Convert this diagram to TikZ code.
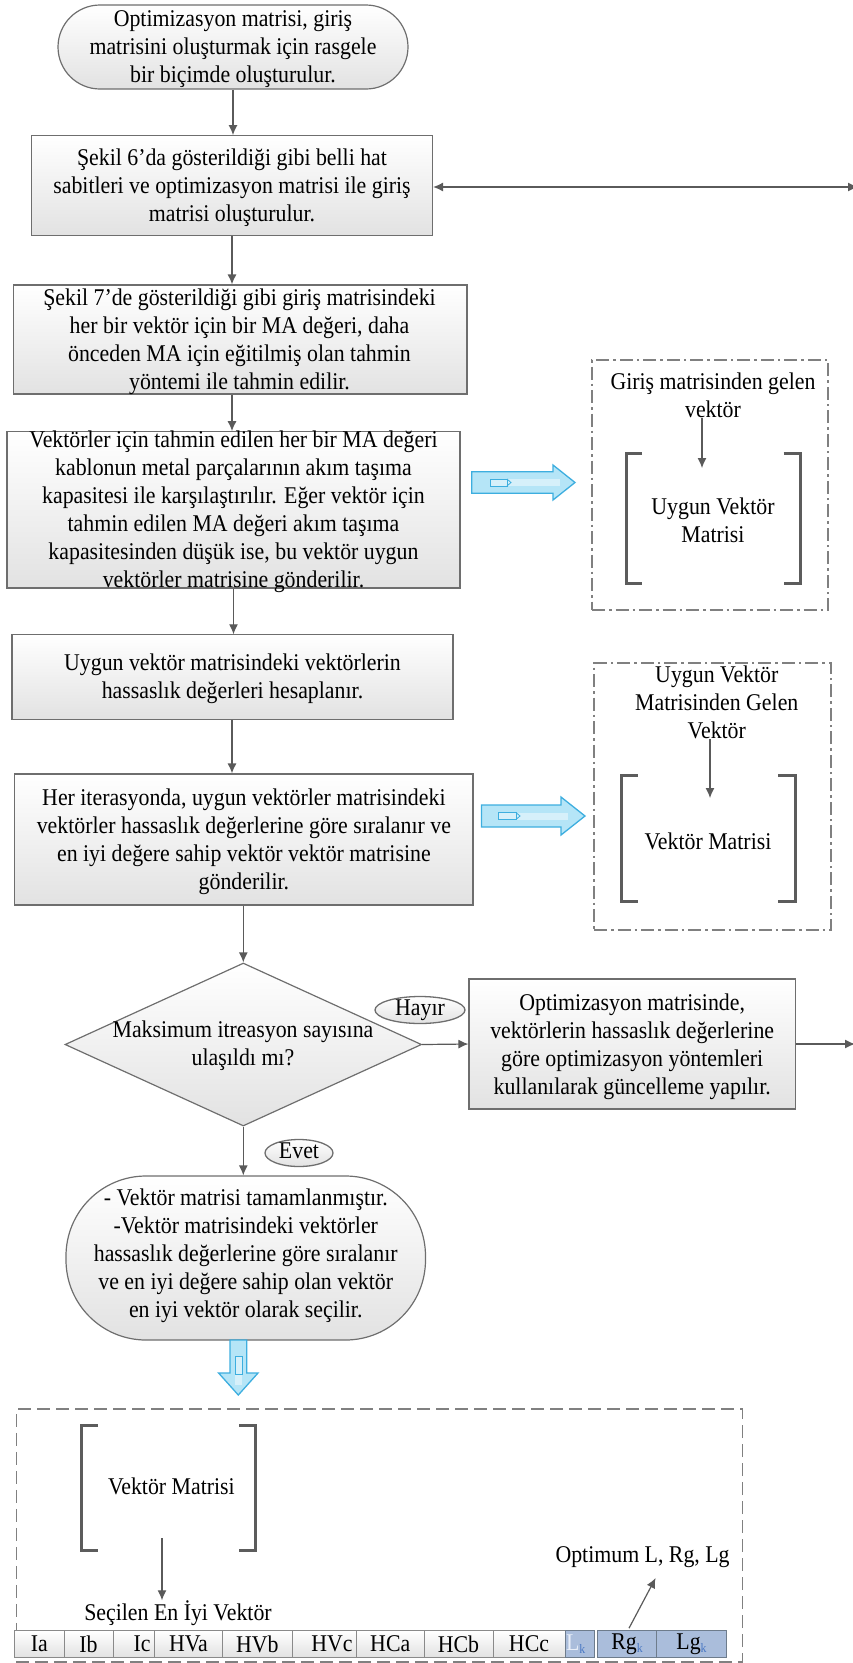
\documentclass[tikz,border=0pt]{standalone}
\usepackage{fontspec}
\setmainfont{Liberation Serif}[FakeStretch=0.91]
\usetikzlibrary{arrows.meta,shapes.geometric,calc}
\definecolor{bd}{HTML}{6E6E6E}
\definecolor{bfill}{HTML}{E2E2E2}
\definecolor{connc}{HTML}{5A5A5A}
\definecolor{blueA}{HTML}{B5E5F7}
\definecolor{blueB}{HTML}{3DAEDF}
\definecolor{cellblue}{HTML}{AABDDB}
\definecolor{cellbd}{HTML}{6E7C8C}
\definecolor{cellgray}{HTML}{8A8A8A}
\definecolor{subk}{HTML}{4A78C4}
\definecolor{Lfade}{HTML}{E8EEF8}
\definecolor{dd}{HTML}{808080}
\definecolor{brk}{HTML}{5C5C5C}
\newcommand{\kSub}{\raisebox{-3pt}{\fontsize{13}{13}\selectfont\textcolor{subk}{k}}}
\begin{document}
\begin{tikzpicture}[x=1pt,y=-1pt,
  txt/.style={font=\fontsize{24}{28}\selectfont, align=center, inner sep=0pt, text=black},
  procbox/.style={draw=bd, line width=1.2pt, top color=white, bottom color=bfill, inner sep=0pt},
  ddbox/.style={draw=dd, line width=1.4pt, dash pattern=on 13pt off 4pt on 2.5pt off 4pt, inner sep=0pt},
  dbox/.style={draw=dd, line width=1.5pt, dash pattern=on 13pt off 6pt, inner sep=0pt},
  conn/.style={draw=connc, line width=1.2pt, -{Latex[length=10pt,width=9pt]}},
  brack/.style={draw=brk, line width=3pt},
  barrow/.style={draw=blueB, fill=blueA, line width=1.3pt, line join=miter},
  tagell/.style={draw=bd, line width=1.3pt, ellipse, top color=white, bottom color=bfill, inner sep=0pt, font=\fontsize{24}{28}\selectfont, text height=14pt, text depth=4pt},
  cellw/.style={draw=cellgray, line width=1pt, top color=white, bottom color=bfill, minimum height=26.6pt, inner sep=0pt, anchor=west, font=\fontsize{24}{26}\selectfont},
  cellb/.style={draw=cellbd, line width=1pt, fill=cellblue, minimum height=26.6pt, inner sep=0pt, anchor=west, font=\fontsize{24}{26}\selectfont}
]
\useasboundingbox (0,0) rectangle (853,1663);
\clip (0,0) rectangle (853,1663);

% ---------- main flow shapes ----------
\node[procbox, minimum width=350pt, minimum height=84pt, rounded corners=42pt] (t1) at (233,47) {};
\node[txt] (t1t) at (233,49) {Optimizasyon matrisi, giriş\\matrisini oluşturmak için rasgele\\bir biçimde oluşturulur.};

\node[procbox, minimum width=401pt, minimum height=100pt] (b2) at (232,185.7) {};
\node[txt] (b2t) at (232,188) {Şekil 6'da gösterildiği gibi belli hat\\sabitleri ve optimizasyon matrisi ile giriş\\matrisi oluşturulur.};

\node[procbox, minimum width=453.4pt, minimum height=109pt] (b3) at (240.3,339.5) {};
\node[txt] (b3t) at (239.5,341.5) {Şekil 7'de gösterildiği gibi giriş matrisindeki\\her bir vektör için bir MA değeri, daha\\önceden MA için eğitilmiş olan tahmin\\yöntemi ile tahmin edilir.};

\node[procbox, minimum width=453pt, minimum height=156.3pt] (b4) at (233.5,509.9) {};
\node[txt] (b4t) at (233.5,511.7) {Vektörler için tahmin edilen her bir MA değeri\\kablonun metal parçalarının akım taşıma\\kapasitesi ile karşılaştırılır. Eğer vektör için\\tahmin edilen MA değeri akım taşıma\\kapasitesinden düşük ise, bu vektör uygun\\vektörler matrisine gönderilir.};

\node[procbox, minimum width=441pt, minimum height=84.3pt] (b5) at (232.5,677) {};
\node[txt] (b5t) at (232.5,679) {Uygun vektör matrisindeki vektörlerin\\hassaslık değerleri hesaplanır.};

\node[procbox, minimum width=458.3pt, minimum height=131pt] (b6) at (243.9,839.5) {};
\node[txt] (b6t) at (243.9,841.5) {Her iterasyonda, uygun vektörler matrisindeki\\vektörler hassaslık değerlerine göre sıralanır ve\\en iyi değere sahip vektör vektör matrisine\\gönderilir.};

\node[procbox, diamond, minimum width=356.6pt, minimum height=163pt] (d) at (243.3,1044.5) {};
\node[txt] (dt) at (243,1046) {Maksimum itreasyon sayısına\\ulaşıldı mı?};

\node[procbox, minimum width=326.4pt, minimum height=130pt] (upd) at (632.2,1044) {};
\node[txt] (updt) at (632.2,1046.5) {Optimizasyon matrisinde,\\vektörlerin hassaslık değerlerine\\göre optimizasyon yöntemleri\\kullanılarak güncelleme yapılır.};

\node[procbox, minimum width=359.5pt, minimum height=164pt, rounded corners=80pt] (f) at (245.75,1258) {};
\node[txt] (ft) at (245.75,1255.5) {- Vektör matrisi tamamlanmıştır.\\-Vektör matrisindeki vektörler\\hassaslık değerlerine göre sıralanır\\ve en iyi değere sahip olan vektör\\en iyi vektör olarak seçilir.};

\node[tagell, minimum width=90pt, minimum height=27pt] (hay) at (420,1010) {Hayır};
\node[tagell, minimum width=68pt, minimum height=27pt] (evet) at (299,1153) {Evet};

% ---------- main connectors ----------
\draw[conn] (t1.south) -- (t1.south |- b2.north);
\draw[conn] (b2.south) -- (b2.south |- b3.north);
\draw[conn] (b2.south |- b3.south) -- (b2.south |- b4.north);
\draw[conn] (b4.south) -- (b4.south |- b5.north);
\draw[conn] (b2.south |- b5.south) -- (b2.south |- b6.north);
\draw[conn] (d.north |- b6.south) -- (d.north);
\draw[conn] (d.east) -- (upd.west);
\draw[conn] (d.south) -- (d.south |- f.north);
\coordinate (fb1) at (858,187);
\coordinate (fb2) at (855,1044);
\draw[conn, {Latex[length=10pt,width=9pt]}-{Latex[length=10pt,width=9pt]}] (b2.east |- fb1) -- (fb1);
\draw[conn] (upd.east) -- (fb2);

% ---------- right box 1 ----------
\node[ddbox, minimum width=236pt, minimum height=250pt] (rb1) at (710,485) {};
\node[txt] (g1) at (713,395) {Giriş matrisinden gelen\\vektör};
\node[txt] (u1) at (713,520) {Uygun Vektör\\Matrisi};
\coordinate (a1) at (702,468);
\draw[conn] (g1.south -| a1) -- (a1);
\draw[brack] (642,453) -- (626,453) -- (626,583) -- (642,583);
\draw[brack] (783.5,453) -- (800,453) -- (800,583) -- (783.5,583);

% ---------- right box 2 ----------
\node[ddbox, minimum width=237pt, minimum height=267pt] (rb2) at (712.5,796.5) {};
\node[txt] (g2) at (716.8,702.5) {Uygun Vektör\\Matrisinden Gelen\\Vektör};
\node[txt] (vm2) at (708,841.7) {Vektör Matrisi};
\coordinate (a2) at (710,798);
\draw[conn] (g2.south -| a2) -- (a2);
\draw[brack] (637.6,775) -- (621,775) -- (621,901.7) -- (637.6,901.7);
\draw[brack] (778,775) -- (795,775) -- (795,901.7) -- (778,901.7);

% ---------- blue block arrows ----------
\draw[barrow] (471.7,471.7) -- (553,471.7) -- (553,465) -- (575,482.5) -- (553,500) -- (553,493.3) -- (471.7,493.3) -- cycle;
\fill[white, opacity=0.45] (490,479) rectangle (560,486);
\draw[blueB, line width=1pt] (490,479) rectangle (507,486);
\draw[blueB, line width=0.8pt] (507,479) -- (511,482.5) -- (507,486);

\draw[barrow] (481.5,805) -- (561,805) -- (561,797) -- (585,816) -- (561,835) -- (561,827) -- (481.5,827) -- cycle;
\fill[white, opacity=0.45] (498,812.5) rectangle (568,819.5);
\draw[blueB, line width=1pt] (498,812.5) rectangle (516,819.5);
\draw[blueB, line width=0.8pt] (516,812.5) -- (520,816) -- (516,819.5);

\draw[barrow] (230,1340) -- (246.7,1340) -- (246.7,1373) -- (258,1373) -- (238.3,1395) -- (218.6,1373) -- (230,1373) -- cycle;
\fill[white, opacity=0.45] (235,1356) rectangle (242,1385);
\draw[blueB, line width=1pt] (235,1356) rectangle (242,1374);

% ---------- bottom box ----------
\node[dbox, minimum width=726.3pt, minimum height=252.7pt] (bb) at (379.5,1535.4) {};
\draw[brack] (98,1425) -- (81.6,1425) -- (81.6,1550) -- (98,1550);
\draw[brack] (239,1425) -- (255.7,1425) -- (255.7,1550) -- (239,1550);
\node[txt] (vm3) at (171.4,1486.7) {Vektör Matrisi};
\node[txt] (sel) at (178,1613) {Seçilen En İyi Vektör};
\node[txt] (opt) at (642.6,1556.7) {Optimum L, Rg, Lg};
\coordinate (a3s) at (162,1538);
\draw[conn] (a3s) -- (a3s |- sel.north);

% ---------- table ----------
\node[cellw, minimum width=49.5pt] (c1) at (14,1644) {Ia};
\node[cellw, minimum width=49pt] (c2) at (63.5,1644) {Ib};
\node[cellw, text width=33.5pt, inner xsep=4pt, align=right] (c3) at (112.5,1644) {Ic};
\node[cellw, minimum width=68pt] (c4) at (154,1644) {HVa};
\node[cellw, minimum width=69.5pt] (c5) at (222,1644) {HVb};
\node[cellw, text width=56.5pt, inner xsep=4pt, align=right] (c6) at (291.5,1644) {HVc};
\node[cellw, minimum width=67.5pt] (c7) at (356,1644) {HCa};
\node[cellw, minimum width=69pt] (c8) at (423.5,1644) {HCb};
\node[cellw, minimum width=72pt] (c9) at (492.5,1644) {HCc};
\node[cellb, text width=27pt, inner xsep=1pt, align=left] (c10) at (564.5,1644) {\textcolor{Lfade}{L}\kSub};
\node[cellb, minimum width=59pt] (c11) at (597,1644) {Rg\kSub};
\node[cellb, minimum width=70pt] (c12) at (656,1644) {Lg\kSub};

\coordinate (oe) at (655.6,1578);
\draw[conn] ($(c11.north)+(2,-2)$) -- (oe);
\end{tikzpicture}
\end{document}
